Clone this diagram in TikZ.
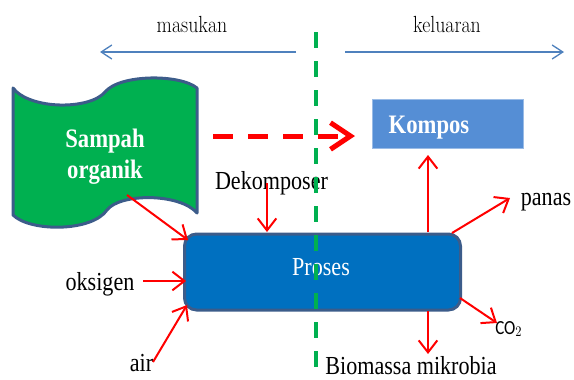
\documentclass[tikz,border=0pt]{standalone}
\usepackage{fontspec}
\newfontfamily\tnr{Liberation Serif}
\newfontfamily\carl{Carlito}
\usetikzlibrary{arrows.meta}
\definecolor{arrblue}{RGB}{79,129,189}
\definecolor{dashgreen}{RGB}{0,176,80}
\definecolor{sgreen}{RGB}{0,176,80}
\definecolor{edgeblue}{RGB}{60,92,138}
\definecolor{procblue}{RGB}{0,112,192}
\definecolor{kblue}{RGB}{85,142,213}
\newcommand\sqz[1]{\scalebox{0.85}[1]{#1}}
\begin{document}
\begin{tikzpicture}[x=0.75pt,y=-0.75pt,
  lm/.style={inner sep=0pt,anchor=base,font=\fontsize{17.5}{21}\selectfont},
  tr/.style={inner sep=0pt,anchor=base,font=\tnr\fontsize{19.5}{23}\selectfont},
  trb/.style={inner sep=0pt,anchor=base,text=white,font=\tnr\bfseries\fontsize{20}{24}\selectfont},
  redarr/.style={draw=red,line width=1.5pt,-{Straight Barb[length=9pt,width=14pt]}},
  bluearr/.style={draw=arrblue,line width=1pt,-{Straight Barb[length=8pt,width=10.5pt]}},
  procbox/.style={draw=edgeblue,fill=procblue,line width=2.25pt,rounded corners=9pt,minimum width=207pt,minimum height=57pt,inner sep=0pt},
  kbox/.style={draw=kblue!60!white,line width=0.4pt,fill=kblue,minimum width=113.25pt,minimum height=36.75pt,inner sep=0pt},
  banner/.style={draw=edgeblue,fill=sgreen,line width=2.25pt,line join=round},
  greendash/.style={draw=dashgreen,line width=3pt,dash pattern=on 12pt off 9.75pt},
  reddash/.style={draw=red,line width=3.75pt,dash pattern=on 15pt off 11.25pt,-{Straight Barb[length=15pt,width=20pt]}}
]
\useasboundingbox (0,0) rectangle (574,379);

% top labels and arrows
\node[lm] (masukan) at (192,32) {\sqz{masukan}};
\node[lm] (keluaran) at (447,32) {\sqz{keluaran}};
\coordinate (mL) at (296,52); \coordinate (mLe) at (100,52);
\coordinate (kR) at (345,52); \coordinate (kRe) at (564,52);
\draw[bluearr] (mL) -- (mLe);
\draw[bluearr] (kR) -- (kRe);

% Sampah organik banner
\path[banner] (13,88) .. controls (30,110) and (90,110) .. (105,92)
  .. controls (120,74) and (180,74) .. (197,88) -- (197,213)
  .. controls (180,193) and (120,193) .. (107,210)
  .. controls (92,232) and (30,232) .. (13,215) -- cycle;
\node[inner sep=0pt,minimum width=138pt,minimum height=95pt] (sampah) at (105,152) {};
\node[trb] (sampah1) at (105,147) {\sqz{Sampah}};
\node[trb] (sampah2) at (105,178) {\sqz{organik}};

% Kompos
\node[kbox] (kompos) at (447.5,123.5) {};
\node[trb] (komposlbl) at (429,133) {\sqz{Kompos}};

% dashed red arrow
\coordinate (dS) at (213,136); \coordinate (dE) at (355,136);
\draw[reddash] (dS) -- (dE);

% Proses
\node[procbox] (proses) at (322.5,272) {};
\node[tr,text=white] (proseslbl) at (321,275) {\sqz{Proses}};

% input labels
\node[tr] (dekomposer) at (271.5,189) {\sqz{Dekomposer}};
\node[tr] (oksigen) at (100,290) {\sqz{oksigen}};
\node[tr] (air) at (141.5,371) {\sqz{air}};

% output labels
\node[tr] (panas) at (546,205) {\sqz{panas}};
\node[inner sep=0pt,anchor=base west,font=\carl\fontsize{15}{18}\selectfont] (co2) at (495,334) {\sqz{CO$_2$}};
\node[tr] (biomassa) at (411,374) {\sqz{Biomassa mikrobia}};

% connector end points
\coordinate (sA) at (127,195); \coordinate (pA) at (188,240);
\coordinate (dkA) at (267,183); \coordinate (pB) at (267,232);
\coordinate (okA) at (143,281); \coordinate (pC) at (186,281);
\coordinate (aiA) at (153,362); \coordinate (pD) at (187,305);
\coordinate (pUp) at (428,232); \coordinate (kB) at (428,155);
\coordinate (pPa) at (452,233); \coordinate (paE) at (510,198);
\coordinate (pCo) at (460,298); \coordinate (coE) at (497,323);
\coordinate (pDn) at (428,311); \coordinate (biE) at (428,354);

\draw[redarr] (sA) -- (pA);
\draw[redarr] (dkA) -- (pB);
\draw[redarr] (okA) -- (pC);
\draw[redarr] (aiA) -- (pD);
\draw[redarr] (pUp) -- (kB);
\draw[redarr] (pPa) -- (paE);
\draw[redarr] (pCo) -- (coE);
\draw[redarr] (pDn) -- (biE);

% green dashed divider
\coordinate (gTop) at (316,32); \coordinate (gBot) at (316,379);
\draw[greendash] (gTop) -- (gBot);
\end{tikzpicture}
\end{document}
